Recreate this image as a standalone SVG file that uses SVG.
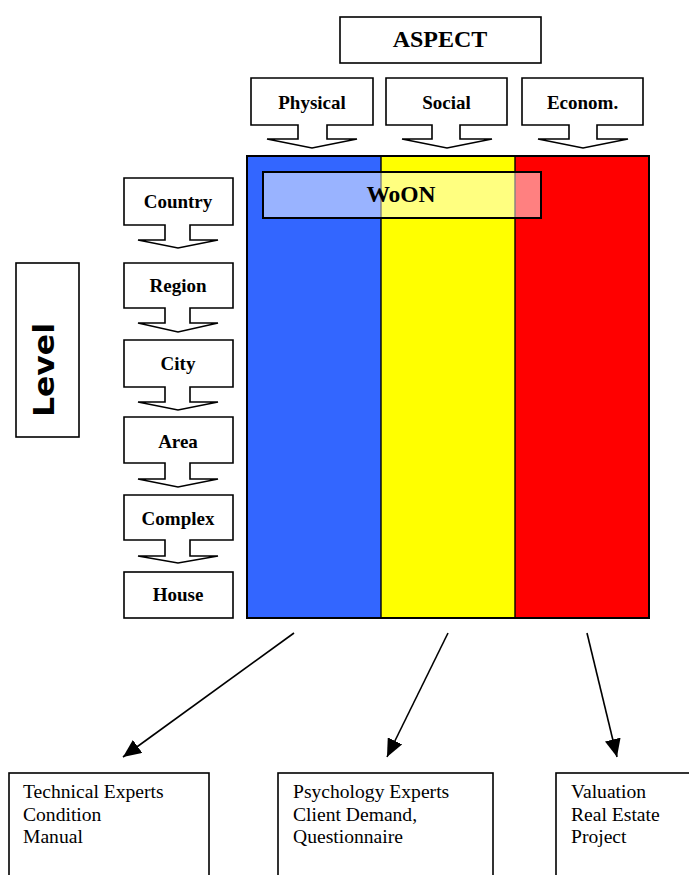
<svg xmlns="http://www.w3.org/2000/svg" width="689" height="875" viewBox="0 0 689 875">
<style>
.sh{fill:#fff;stroke:#000;stroke-width:1.6;stroke-linejoin:miter}
.bl{font-family:"Liberation Serif","Times New Roman",serif;font-weight:bold;font-size:19px;text-anchor:middle;fill:#000}
.tx{font-family:"Liberation Serif","Times New Roman",serif;font-size:19.6px;fill:#000}
.ln{stroke:#000;stroke-width:1.6;fill:none}
</style>
<defs>
<marker id="ah" markerUnits="userSpaceOnUse" markerWidth="19" markerHeight="16" refX="18" refY="8" orient="auto">
<path d="M0,0 L18,8 L0,16 z" fill="#000"/>
</marker>
</defs>
<rect width="689" height="875" fill="#fff"/>

<g id="aspect">
<rect class="sh" x="340" y="17" width="201" height="46"/>
<text class="bl" x="440" y="47" style="font-size:24px">ASPECT</text>
</g>

<g id="physical">
<path class="sh" d="M251,78 H373 V125 H327 V139 H357 L312,148 L267,139 H298 V125 H251 Z"/>
<text class="bl" x="312" y="109">Physical</text>
</g>
<g id="social">
<path class="sh" d="M386,78 H507 V125 H460 V139 H492 L447,148 L402,139 H432 V125 H386 Z"/>
<text class="bl" x="446.5" y="109">Social</text>
</g>
<g id="econom">
<path class="sh" d="M522,78 H643 V125 H597 V139 H628 L583,148 L538,139 H569 V125 H522 Z"/>
<text class="bl" x="582.5" y="109">Econom.</text>
</g>

<g id="matrix">
<rect x="247" y="156" width="134" height="462" fill="#3366FF"/>
<rect x="381" y="156" width="134" height="462" fill="#FFFF00"/>
<rect x="515" y="156" width="134" height="462" fill="#FF0000"/>
<line x1="381" y1="156" x2="381" y2="618" stroke="#000" stroke-width="1.4"/>
<line x1="515" y1="156" x2="515" y2="618" stroke="#000" stroke-width="1.4"/>
<rect x="247" y="156" width="402" height="462" fill="none" stroke="#000" stroke-width="2"/>
</g>

<g id="woon">
<rect x="263" y="172" width="278" height="46" fill="#fff" fill-opacity="0.5" stroke="#000" stroke-width="2"/>
<text class="bl" x="401" y="202" style="font-size:23.5px">WoON</text>
</g>

<g id="country">
<path class="sh" d="M124,178 H233 V225 H190 V240 H218 L178,248 L138,240 H165 V225 H124 Z"/>
<text class="bl" x="178" y="208">Country</text>
</g>
<g id="region">
<path class="sh" d="M124,263 H233 V308 H190 V323 H218 L178,332 L138,323 H165 V308 H124 Z"/>
<text class="bl" x="178" y="292">Region</text>
</g>
<g id="city">
<path class="sh" d="M124,340 H233 V387 H190 V402 H218 L178,410 L138,402 H165 V387 H124 Z"/>
<text class="bl" x="178" y="370">City</text>
</g>
<g id="area">
<path class="sh" d="M124,417 H233 V463 H190 V479 H218 L178,487 L138,479 H165 V463 H124 Z"/>
<text class="bl" x="178" y="448">Area</text>
</g>
<g id="complex">
<path class="sh" d="M124,495 H233 V540 H190 V556 H218 L178,563 L138,556 H165 V540 H124 Z"/>
<text class="bl" x="178" y="525">Complex</text>
</g>
<g id="house">
<rect class="sh" x="124" y="572" width="109" height="46"/>
<text class="bl" x="178" y="601">House</text>
</g>

<g id="level">
<rect class="sh" x="16" y="263" width="63" height="174"/>
<text transform="translate(54,370) rotate(-90)" x="0" y="0" text-anchor="middle" textLength="94" lengthAdjust="spacingAndGlyphs" style="font-family:'DejaVu Sans','Liberation Sans',sans-serif;font-weight:bold;font-size:29px">Level</text>
</g>

<g id="connectors">
<line class="ln" x1="294" y1="633" x2="123" y2="757" marker-end="url(#ah)"/>
<line class="ln" x1="448" y1="633" x2="387" y2="757" marker-end="url(#ah)"/>
<line class="ln" x1="587" y1="633" x2="617" y2="757" marker-end="url(#ah)"/>
</g>

<g id="technical">
<rect class="sh" x="9" y="773" width="200" height="110"/>
<text class="tx" x="23" y="798">Technical Experts</text>
<text class="tx" x="23" y="821">Condition</text>
<text class="tx" x="23" y="843">Manual</text>
</g>
<g id="psychology">
<rect class="sh" x="278" y="773" width="215" height="110"/>
<text class="tx" x="293" y="798">Psychology Experts</text>
<text class="tx" x="293" y="821">Client Demand,</text>
<text class="tx" x="293" y="843">Questionnaire</text>
</g>
<g id="valuation">
<rect class="sh" x="556" y="773" width="150" height="110"/>
<text class="tx" x="571" y="798">Valuation</text>
<text class="tx" x="571" y="821">Real Estate</text>
<text class="tx" x="571" y="843">Project</text>
</g>
</svg>
